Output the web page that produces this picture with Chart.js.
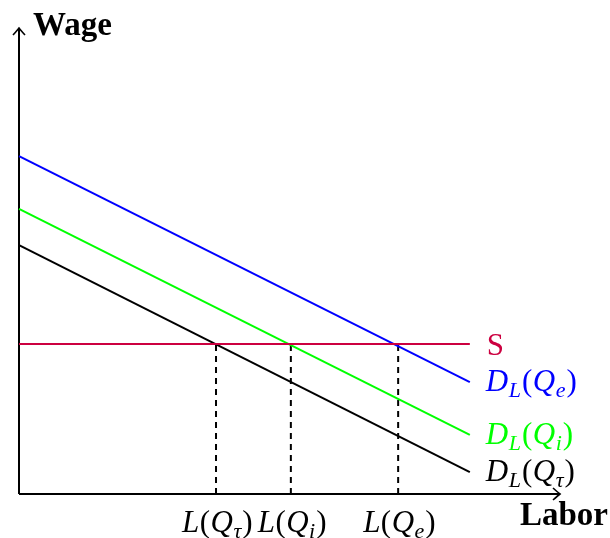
<!DOCTYPE html>
<html>
<head>
<meta charset="utf-8">
<script src="https://cdn.jsdelivr.net/npm/chart.js@4/dist/chart.umd.min.js"></script>
<style>
  html, body { margin: 0; padding: 0; background: #fff; }
  #wrap { width: 610px; height: 538px; }
</style>
</head>
<body>
<div id="wrap"><canvas id="laborChart" width="610" height="538"></canvas></div>
<script>
// ========== data ==========
const laborMax = 12;
const wageMax = 10;
const laborEnd = 10;                                 // where the curves stop
const demandLabels = ['D_L(Q_e)', 'D_L(Q_i)', 'D_L(Q_τ)'];
const demandWageAtZero = [7.25, 6.12, 5.34];
const demandWageAtEnd = [2.40, 1.27, 0.47];
const demandColors = ['#0000ff', '#00ff00', '#000000'];
const supplyLabel = 'S';
const supplyWage = 3.22;
const supplyColor = '#cc0040';
const equilibriumLabor = [8.41, 6.03, 4.37];
const equilibriumLabels = ['L(Q_e)', 'L(Q_i)', 'L(Q_τ)'];
const xAxisTitle = 'Labor';
const yAxisTitle = 'Wage';

// ========== datasets ==========
const datasets = [];
datasets.push({
    label: supplyLabel,
    data: [{ x: 0, y: supplyWage }, { x: laborEnd, y: supplyWage }],
    borderColor: supplyColor,
    borderWidth: 2
});
demandLabels.forEach((name, i) => {
    datasets.push({
        label: name,
        data: [{ x: 0, y: demandWageAtZero[i] }, { x: laborEnd, y: demandWageAtEnd[i] }],
        borderColor: demandColors[i],
        borderWidth: 2
    });
});
equilibriumLabor.forEach((l, i) => {
    datasets.push({
        label: equilibriumLabels[i],
        data: [{ x: l, y: 0 }, { x: l, y: supplyWage }],
        borderColor: '#000',
        borderWidth: 2,
        borderDash: [6, 5]
    });
});
datasets.forEach(d => {
    d.showLine = true;
    d.pointRadius = 0;
    d.fill = false;
    d.clip = false;
    d.tension = 0;
});

// ========== text helpers ==========
const SERIF = '"Liberation Serif", "DejaVu Serif", serif';

// 'D_L(Q_e)' -> tokens with italic / subscript / upright
function tokenize(s) {
    const out = [];
    for (let i = 0; i < s.length; i++) {
        const c = s[i];
        if (c === '_') { out.push({ t: s[i + 1], sub: true }); i++; }
        else if (c === '(' || c === ')') out.push({ t: c, up: true });
        else out.push({ t: c });
    }
    return out;
}

function fontFor(tok, size) {
    const sz = tok.sub ? Math.round(size * 0.7) : size;
    return (tok.up ? '' : 'italic ') + sz + 'px ' + SERIF;
}

function mathWidth(ctx, tokens, size) {
    let w = 0;
    tokens.forEach(tok => { ctx.font = fontFor(tok, size); w += ctx.measureText(tok.t).width; });
    return w;
}

function drawMath(ctx, str, x, y, size, color, align) {
    const tokens = tokenize(str);
    let cx = x;
    if (align === 'center') cx = x - mathWidth(ctx, tokens, size) / 2;
    ctx.fillStyle = color;
    ctx.textBaseline = 'alphabetic';
    ctx.textAlign = 'left';
    tokens.forEach(tok => {
        ctx.font = fontFor(tok, size);
        ctx.fillText(tok.t, cx, tok.sub ? y + size * 0.2 : y);
        cx += ctx.measureText(tok.t).width + (tok.sub ? 1 : 0.5);
    });
}

// latex style "->" arrow head
function arrowHead(ctx, x, y, dir) {
    ctx.save();
    ctx.translate(x, y);
    ctx.rotate(dir);
    ctx.beginPath();
    ctx.moveTo(-7, -6);
    ctx.quadraticCurveTo(-2, -1.5, 0, 0);
    ctx.quadraticCurveTo(-2, 1.5, -7, 6);
    ctx.lineWidth = 1.6;
    ctx.strokeStyle = '#000';
    ctx.stroke();
    ctx.restore();
}

// ========== plugin: axes and labels ==========
const economicsPlugin = {
    id: 'economics',
    beforeDatasetsDraw(chart) {
        const { ctx, chartArea: a } = chart;
        ctx.save();
        ctx.strokeStyle = '#000';
        ctx.lineWidth = 2;
        ctx.beginPath();
        ctx.moveTo(a.left, a.bottom);
        ctx.lineTo(a.left, a.top);
        ctx.moveTo(a.left, a.bottom);
        ctx.lineTo(a.right, a.bottom);
        ctx.stroke();
        arrowHead(ctx, a.left, a.top, -Math.PI / 2);
        arrowHead(ctx, a.right, a.bottom, 0);
        ctx.restore();
    },
    afterDatasetsDraw(chart) {
        const { ctx, chartArea: a, scales } = chart;
        const xs = scales.x, ys = scales.y;
        const size = 31;
        ctx.save();

        // curve labels at right end
        const endX = xs.getPixelForValue(laborEnd) + 16;
        ctx.font = size + 'px ' + SERIF;
        ctx.fillStyle = supplyColor;
        ctx.textBaseline = 'alphabetic';
        ctx.fillText(supplyLabel, endX + 1, ys.getPixelForValue(supplyWage) + 11);
        demandLabels.forEach((name, i) => {
            drawMath(ctx, name, endX, ys.getPixelForValue(demandWageAtEnd[i]) + 9, size, demandColors[i]);
        });

        // equilibrium labor labels under the axis
        equilibriumLabor.forEach((l, i) => {
            drawMath(ctx, equilibriumLabels[i], xs.getPixelForValue(l), a.bottom + 38, size, '#000', 'center');
        });

        // axis titles
        ctx.fillStyle = '#000';
        ctx.font = 'bold 33px ' + SERIF;
        ctx.textAlign = 'left';
        ctx.fillText(yAxisTitle, a.left + 14, a.top + 7);
        ctx.textAlign = 'right';
        ctx.fillText(xAxisTitle, 608, a.bottom + 31);
        ctx.restore();
    }
};

// ========== chart ==========
const ctx = document.getElementById('laborChart').getContext('2d');
const chart = new Chart(ctx, {
    type: 'scatter',
    data: { datasets: datasets },
    options: {
        responsive: false,
        animation: false,
        layout: { padding: { left: 19, right: 50, top: 28, bottom: 44 } },
        plugins: { legend: { display: false }, tooltip: { enabled: false } },
        scales: {
            x: { type: 'linear', min: 0, max: laborMax, display: false },
            y: { type: 'linear', min: 0, max: wageMax, display: false }
        }
    },
    plugins: [economicsPlugin]
});
</script>
</body>
</html>
